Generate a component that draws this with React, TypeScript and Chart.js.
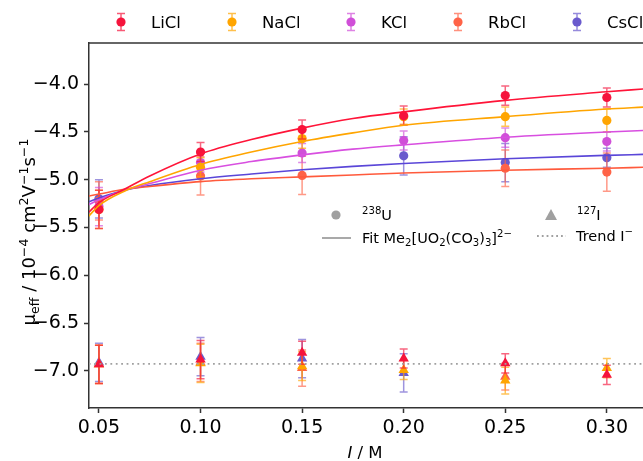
import React, { useEffect, useRef } from "react";
import { Chart, registerables } from "chart.js";

Chart.register(...registerables);

// Ionic strength of the measurements (M)
const ionicStrength = [0.05, 0.1, 0.15, 0.2, 0.25, 0.3];
const xTickValues = [0.05, 0.1, 0.15, 0.2, 0.25, 0.3];
const yTickValues = [-7.0, -6.5, -6.0, -5.5, -5.0, -4.5, -4.0];

const salts = ["LiCl", "NaCl", "KCl", "RbCl", "CsCl"];
const saltColors = ["#f5143c", "#ffa500", "#d04fd8", "#ff6347", "#6a5acd"];
const fitColors = ["#ff1438", "#ffa500", "#d84fe0", "#ff5a3c", "#5a46d8"];

// Effective mobility of 238U (10^-4 cm^2 V^-1 s^-1)
const uLiCl = [-5.31, -4.71, -4.475, -4.33, -4.12, -4.14];
const uNaCl = [-5.31, -4.87, -4.57, -4.34, -4.34, -4.38];
const uKCl = [-5.28, -4.82, -4.72, -4.59, -4.56, -4.6];
const uRbCl = [-5.22, -4.96, -4.955, null, -4.88, -4.92];
const uCsCl = [-5.2, null, null, -4.75, -4.82, -4.77];

const uLiClErr = [0.2, 0.1, 0.1, 0.1, 0.1, 0.1];
const uNaClErr = [0.2, 0.1, 0.1, 0.08, 0.1, 0.12];
const uKClErr = [0.2, 0.1, 0.1, 0.1, 0.1, 0.1];
const uRbClErr = [0.2, 0.2, 0.2, 0.2, 0.19, 0.2];
const uCsClErr = [0.2, 0.2, 0.2, 0.2, 0.2, 0.1];

// Effective mobility of 127I
const iLiCl = [-6.93, -6.88, -6.81, -6.87, -6.92, -7.04];
const iNaCl = [-6.93, -6.92, -6.95, -6.99, -7.1, -6.97];
const iRbCl = [-6.93, -6.91, -6.97, null, -7.06, null];
const iCsCl = [-6.91, -6.85, -6.87, -7.02, null, null];

const iLiClErr = [0.2, 0.2, 0.12, 0.1, 0.1, 0.1];
const iNaClErr = [0.2, 0.2, 0.15, 0.1, 0.14, 0.1];
const iRbClErr = [0.2, 0.2, 0.19, 0.2, 0.14, 0.2];
const iCsClErr = [0.2, 0.2, 0.2, 0.2, 0.2, 0.2];

// Fitted curves for Me2[UO2(CO3)3]2-
const fitI = [0.045, 0.05, 0.0625, 0.075, 0.1, 0.125, 0.15, 0.175, 0.2, 0.25, 0.3, 0.318];
const fitLiCl = [-5.34, -5.24, -5.1, -4.96, -4.73, -4.58, -4.46, -4.36, -4.29, -4.17, -4.08, -4.05];
const fitNaCl = [-5.38, -5.27, -5.12, -5.02, -4.84, -4.71, -4.6, -4.51, -4.43, -4.34, -4.26, -4.24];
const fitKCl = [-5.26, -5.21, -5.11, -5.04, -4.9, -4.81, -4.74, -4.68, -4.635, -4.555, -4.5, -4.485];
const fitRbCl = [-5.17, -5.15, -5.1, -5.07, -5.02, -4.99, -4.97, -4.95, -4.93, -4.9, -4.88, -4.87];
const fitCsCl = [-5.23, -5.19, -5.11, -5.06, -4.99, -4.94, -4.895, -4.86, -4.83, -4.78, -4.745, -4.735];

// Iodide trend level
const trendI = [0.045, 0.318];
const trendLevel = -6.925;

const FONT = '"DejaVu Sans"';

type Seg = { t: string; k?: "sup" | "sub"; i?: boolean };

function drawRich(
  ctx: CanvasRenderingContext2D,
  segs: Seg[],
  x: number,
  cy: number,
  size: number,
  align: "left" | "center",
  color: string
) {
  const fontFor = (s: Seg) =>
    `${s.i ? "italic " : ""}${s.k ? size * 0.7 : size}px ${FONT}`;
  let w = 0;
  for (const s of segs) {
    ctx.font = fontFor(s);
    w += ctx.measureText(s.t).width;
  }
  let cx = align === "center" ? x - w / 2 : x;
  const base = cy + size * 0.36;
  ctx.fillStyle = color;
  ctx.textBaseline = "alphabetic";
  ctx.textAlign = "left";
  for (const s of segs) {
    ctx.font = fontFor(s);
    let dy = 0;
    if (s.k === "sup") dy = -size * 0.42;
    if (s.k === "sub") dy = size * 0.22;
    ctx.fillText(s.t, cx, base + dy);
    cx += ctx.measureText(s.t).width;
  }
}

function withAlpha(hex: string, a: number) {
  const n = parseInt(hex.slice(1), 16);
  return `rgba(${(n >> 16) & 255},${(n >> 8) & 255},${n & 255},${a})`;
}

const errorBarPlugin = {
  id: "errorBars",
  beforeDatasetDraw(chart: any, args: any) {
    const ds = chart.data.datasets[args.index];
    if (!ds.errs) return;
    const ctx = chart.ctx as CanvasRenderingContext2D;
    const xs = chart.scales.x;
    const ys = chart.scales.y;
    ctx.save();
    ctx.strokeStyle = withAlpha(ds.baseColor, 0.65);
    ctx.lineWidth = 1.5;
    ds.data.forEach((p: any, k: number) => {
      if (p.y === null || p.y === undefined) return;
      const e = ds.errs[k];
      const px = xs.getPixelForValue(p.x);
      const y1 = ys.getPixelForValue(p.y + e);
      const y2 = ys.getPixelForValue(p.y - e);
      ctx.beginPath();
      ctx.moveTo(px, y1);
      ctx.lineTo(px, y2);
      ctx.moveTo(px - 4, y1);
      ctx.lineTo(px + 4, y1);
      ctx.moveTo(px - 4, y2);
      ctx.lineTo(px + 4, y2);
      ctx.stroke();
    });
    ctx.restore();
  },
};

const decorPlugin = {
  id: "decor",
  afterDraw(chart: any) {
    const ctx = chart.ctx as CanvasRenderingContext2D;
    const area = chart.chartArea;
    ctx.save();
    // top spine
    ctx.strokeStyle = "#333333";
    ctx.lineWidth = 1.5;
    ctx.beginPath();
    ctx.moveTo(area.left, area.top);
    ctx.lineTo(area.right, area.top);
    ctx.stroke();

    // salt legend above the axes
    const legendX = [121, 232, 351, 458, 577];
    const ly = 22;
    salts.forEach((name, k) => {
      const mx = legendX[k];
      ctx.strokeStyle = withAlpha(saltColors[k], 0.7);
      ctx.lineWidth = 1.5;
      ctx.beginPath();
      ctx.moveTo(mx, ly - 8.5);
      ctx.lineTo(mx, ly + 8.5);
      ctx.moveTo(mx - 4, ly - 8.5);
      ctx.lineTo(mx + 4, ly - 8.5);
      ctx.moveTo(mx - 4, ly + 8.5);
      ctx.lineTo(mx + 4, ly + 8.5);
      ctx.stroke();
      ctx.fillStyle = saltColors[k];
      ctx.beginPath();
      ctx.arc(mx, ly, 4.6, 0, Math.PI * 2);
      ctx.fill();
      drawRich(ctx, [{ t: name }], mx + 30, ly, 16.5, "left", "#000");
    });

    // marker legend inside the axes
    const grey = "#a0a0a0";
    ctx.fillStyle = grey;
    ctx.beginPath();
    ctx.arc(336, 215, 4.6, 0, Math.PI * 2);
    ctx.fill();
    ctx.beginPath();
    ctx.moveTo(551, 209);
    ctx.lineTo(557, 220);
    ctx.lineTo(545, 220);
    ctx.closePath();
    ctx.fill();
    ctx.strokeStyle = grey;
    ctx.lineWidth = 1.8;
    ctx.beginPath();
    ctx.moveTo(322, 238);
    ctx.lineTo(351, 238);
    ctx.stroke();
    ctx.setLineDash([1.8, 3]);
    ctx.beginPath();
    ctx.moveTo(537, 236);
    ctx.lineTo(566, 236);
    ctx.stroke();
    ctx.setLineDash([]);
    const ls = 14.5;
    drawRich(ctx, [{ t: "238", k: "sup" }, { t: "U" }], 362, 215, ls, "left", "#000");
    drawRich(ctx, [{ t: "127", k: "sup" }, { t: "I" }], 577, 215, ls, "left", "#000");
    drawRich(
      ctx,
      [
        { t: "Fit Me" },
        { t: "2", k: "sub" },
        { t: "[UO" },
        { t: "2", k: "sub" },
        { t: "(CO" },
        { t: "3", k: "sub" },
        { t: ")" },
        { t: "3", k: "sub" },
        { t: "]" },
        { t: "2\u2212", k: "sup" },
      ],
      362,
      238,
      ls,
      "left",
      "#000"
    );
    drawRich(ctx, [{ t: "Trend I" }, { t: "\u2212", k: "sup" }], 576, 236, ls, "left", "#000");

    // axis titles
    drawRich(
      ctx,
      [{ t: "I", i: true }, { t: " / M" }],
      365,
      452,
      16.5,
      "center",
      "#000"
    );
    ctx.translate(29, 232);
    ctx.rotate(-Math.PI / 2);
    drawRich(
      ctx,
      [
        { t: "\u03bc" },
        { t: "eff", k: "sub" },
        { t: " / 10" },
        { t: "\u22124", k: "sup" },
        { t: " cm" },
        { t: "2", k: "sup" },
        { t: "V" },
        { t: "\u22121", k: "sup" },
        { t: "s" },
        { t: "\u22121", k: "sup" },
      ],
      0,
      0,
      18,
      "center",
      "#000"
    );
    ctx.restore();
  },
};

function pts(xs: number[], ys: (number | null)[]) {
  return xs.map((x, k) => ({ x, y: ys[k] }));
}

export default function App() {
  const ref = useRef<HTMLCanvasElement | null>(null);

  useEffect(() => {
    const canvas = ref.current;
    if (!canvas) return;

    const fits = [fitLiCl, fitNaCl, fitKCl, fitRbCl, fitCsCl];
    const uVals = [uLiCl, uNaCl, uKCl, uRbCl, uCsCl];
    const uErrs = [uLiClErr, uNaClErr, uKClErr, uRbClErr, uCsClErr];
    const iVals: ((number | null)[] | null)[] = [iLiCl, iNaCl, null, iRbCl, iCsCl];
    const iErrs: (number[] | null)[] = [iLiClErr, iNaClErr, null, iRbClErr, iCsClErr];

    const datasets: any[] = [];
    datasets.push({
      label: "Trend I-",
      data: pts(trendI, trendI.map(() => trendLevel)),
      borderColor: "#a0a0a0",
      borderWidth: 1.8,
      borderDash: [1.8, 3.6],
      pointRadius: 0,
      showLine: true,
      fill: false,
    });
    fits.forEach((f, k) => {
      datasets.push({
        label: `Fit ${salts[k]}`,
        data: pts(fitI, f),
        borderColor: fitColors[k],
        borderWidth: 1.6,
        pointRadius: 0,
        showLine: true,
        cubicInterpolationMode: "monotone",
        fill: false,
      });
    });
    uVals.forEach((v, k) => {
      datasets.push({
        label: `238U ${salts[k]}`,
        data: pts(ionicStrength, v),
        errs: uErrs[k],
        baseColor: saltColors[k],
        showLine: false,
        pointStyle: "circle",
        pointRadius: 4.6,
        pointBackgroundColor: saltColors[k],
        pointBorderColor: saltColors[k],
        pointBorderWidth: 0,
      });
    });
    iVals.forEach((v, k) => {
      if (!v) return;
      datasets.push({
        label: `127I ${salts[k]}`,
        data: pts(ionicStrength, v),
        errs: iErrs[k],
        baseColor: saltColors[k],
        showLine: false,
        pointStyle: "triangle",
        pointRadius: 6,
        pointBackgroundColor: saltColors[k],
        pointBorderColor: saltColors[k],
        pointBorderWidth: 0,
      });
    });

    const tickFont = { family: FONT, size: 19 };

    const chart = new Chart(canvas, {
      type: "line",
      data: { datasets },
      plugins: [errorBarPlugin, decorPlugin],
      options: {
        responsive: false,
        animation: false,
        devicePixelRatio: 1,
        layout: { autoPadding: false, padding: { top: 43, left: 0, right: 0, bottom: 0 } },
        plugins: { legend: { display: false }, tooltip: { enabled: false } },
        elements: { line: { tension: 0 } },
        scales: {
          x: {
            type: "linear",
            min: 0.0451,
            max: 0.3178,
            afterBuildTicks: (s: any) => {
              s.ticks = xTickValues.map((value) => ({ value }));
            },
            afterFit: (s: any) => {
              s.height = 53;
              s.paddingLeft = 0;
              s.paddingRight = 0;
            },
            ticks: {
              callback: (v: any) => Number(v).toFixed(2),
              font: tickFont,
              color: "#000",
              padding: 4,
              maxRotation: 0,
              autoSkip: false,
            },
            grid: {
              display: true,
              drawOnChartArea: false,
              drawTicks: true,
              tickLength: 5,
              tickWidth: 1.5,
              tickColor: "#333333",
            },
            border: { display: true, color: "#333333", width: 1.5 },
          },
          y: {
            type: "linear",
            min: -7.387,
            max: -3.57,
            afterBuildTicks: (s: any) => {
              s.ticks = yTickValues.map((value) => ({ value }));
            },
            afterFit: (s: any) => {
              s.width = 89;
              s.paddingTop = 0;
              s.paddingBottom = 0;
            },
            ticks: {
              callback: (v: any) => Number(v).toFixed(1).replace("-", "\u2212"),
              font: tickFont,
              color: "#000",
              padding: 5,
              autoSkip: false,
            },
            grid: {
              display: true,
              drawOnChartArea: false,
              drawTicks: true,
              tickLength: 5,
              tickWidth: 1.5,
              tickColor: "#333333",
            },
            border: { display: true, color: "#333333", width: 1.5 },
          },
        },
      } as any,
    });

    return () => chart.destroy();
  }, []);

  return (
    <div style={{ position: "absolute", left: 0, top: 0, width: 643, height: 461, background: "#fff" }}>
      <canvas ref={ref} width={643} height={461} style={{ display: "block" }} />
    </div>
  );
}
